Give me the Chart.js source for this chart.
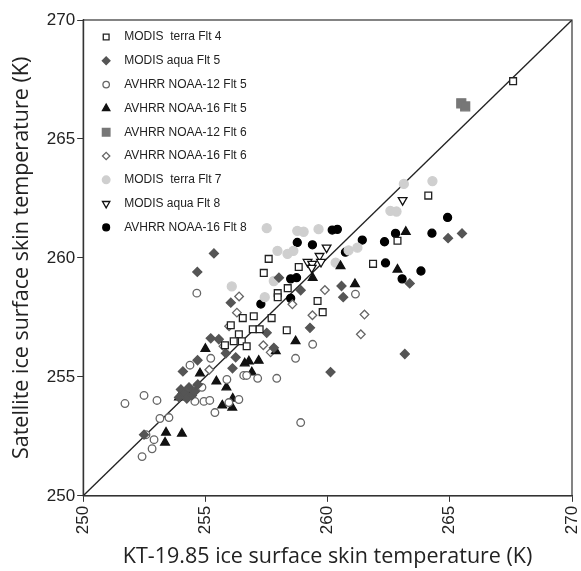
<!DOCTYPE html>
<html>
<head>
<meta charset="utf-8">
<script src="https://cdn.jsdelivr.net/npm/chart.js@4.4.1/dist/chart.umd.min.js"></script>
<style>
  html, body { margin: 0; padding: 0; background: #fff; }
  #wrap { width: 581px; height: 571px; position: relative; }
</style>
</head>
<body>
<div id="wrap"><canvas id="skinChart"></canvas></div>
<script>
// series values, [KT-19.85, satellite] in K
const terraFlt4 = [
  [267.59, 267.43], [264.12, 262.62], [262.86, 260.72], [261.86, 259.75],
  [259.59, 258.19], [259.80, 257.72], [258.33, 256.96], [258.82, 259.62],
  [258.37, 258.73], [257.59, 259.96], [257.39, 259.37], [257.96, 258.52],
  [257.96, 258.35], [257.71, 257.47], [256.53, 257.47], [256.98, 257.55],
  [256.04, 257.17], [256.94, 257.00], [257.22, 257.00], [256.37, 256.79],
  [256.16, 256.50], [256.49, 256.50], [255.80, 256.33], [256.69, 256.29]
];
const aquaFlt5 = [
  [255.35, 260.19], [254.67, 259.41], [256.04, 258.12], [255.22, 256.62],
  [255.55, 256.58], [255.84, 255.99], [254.68, 255.70], [254.08, 255.23],
  [256.11, 255.36], [256.24, 255.82], [257.51, 256.85], [257.80, 256.22],
  [259.28, 257.06], [258.90, 258.64], [260.57, 258.82], [260.64, 258.35],
  [263.16, 255.96], [260.12, 255.20], [263.36, 258.93], [264.93, 260.83],
  [265.50, 261.03], [258.01, 259.17], [254.00, 254.47], [254.16, 254.30],
  [254.33, 254.56], [254.45, 254.22], [254.24, 254.09], [254.57, 254.39],
  [253.92, 254.14], [254.69, 254.68], [252.49, 252.57]
];
const noaa12Flt5 = [
  [251.71, 253.88], [252.49, 254.22], [253.02, 254.01], [253.14, 253.25],
  [253.51, 253.29], [252.57, 252.57], [252.90, 252.36], [252.82, 251.98],
  [252.41, 251.65], [254.61, 254.51], [254.86, 254.56], [254.57, 253.97],
  [254.94, 253.97], [255.18, 254.01], [255.39, 253.50], [255.88, 254.89],
  [255.96, 253.92], [256.37, 254.05], [256.57, 255.06], [254.65, 258.52],
  [258.69, 255.78], [257.92, 254.94], [256.69, 255.06], [257.14, 254.94],
  [259.39, 256.37], [261.14, 258.48], [255.22, 255.78], [254.37, 255.49],
  [258.90, 253.08]
];
const noaa16Flt5 = [
  [253.39, 252.66], [254.04, 252.62], [253.35, 252.24], [255.45, 254.81],
  [255.86, 254.56], [253.92, 254.14], [256.12, 254.09], [255.69, 253.80],
  [256.10, 253.71], [254.78, 255.15], [255.00, 256.18], [258.69, 256.50],
  [257.18, 255.68], [256.61, 255.57], [256.78, 255.65], [256.90, 255.19],
  [257.88, 256.08], [260.53, 259.66], [261.12, 258.90], [259.39, 259.16],
  [263.20, 261.10], [262.86, 259.51]
];
const noaa12Flt6 = [[265.47, 266.50], [265.63, 266.37]];
const noaa16Flt6 = [
  [256.38, 258.38], [256.29, 257.70], [255.97, 257.13], [257.37, 256.33],
  [257.67, 256.03], [258.56, 258.05], [259.38, 257.59], [259.89, 258.65],
  [261.51, 257.62], [261.36, 256.79], [255.74, 256.29], [255.16, 255.30]
];
const terraFlt7 = [
  [257.51, 261.25], [258.76, 261.14], [259.02, 261.10], [259.63, 261.21],
  [262.57, 261.98], [262.82, 261.95], [263.12, 263.11], [264.29, 263.23],
  [261.22, 260.43], [260.86, 260.32], [258.36, 260.17], [258.60, 260.30],
  [260.33, 259.80], [257.95, 260.30], [256.08, 258.80], [257.43, 258.35],
  [257.80, 259.03]
];
const aquaFlt8 = [
  [263.07, 262.43], [259.96, 260.43], [259.67, 260.08], [259.18, 259.83],
  [259.37, 259.75], [259.73, 259.83], [259.35, 259.58]
];
const noaa16Flt8 = [
  [260.19, 261.17], [260.40, 261.20], [258.76, 260.65], [259.38, 260.55],
  [261.42, 260.75], [260.73, 260.24], [258.49, 259.12], [258.73, 259.17],
  [262.33, 260.68], [262.37, 259.79], [262.78, 261.03], [264.91, 261.70],
  [264.27, 261.04], [263.82, 259.45], [263.05, 259.12], [257.27, 258.06],
  [258.49, 258.30]
];
const oneToOne = [[250, 250], [270, 270]];

const seriesNames = [
  'MODIS  terra Flt 4', 'MODIS aqua Flt 5', 'AVHRR NOAA-12 Flt 5',
  'AVHRR NOAA-16 Flt 5', 'AVHRR NOAA-12 Flt 6', 'AVHRR NOAA-16 Flt 6',
  'MODIS  terra Flt 7', 'MODIS aqua Flt 8', 'AVHRR NOAA-16 Flt 8'
];
const axisTicks = [250, 255, 260, 265, 270];

const toXY = arr => arr.map(p => ({ x: p[0], y: p[1] }));

function pts(idx, data, style, bg, border, radius, extra) {
  return Object.assign({
    label: seriesNames[idx],
    data: toXY(data),
    pointStyle: style,
    backgroundColor: bg,
    borderColor: border,
    pointRadius: radius,
    borderWidth: 1.3
  }, extra || {});
}

// legend drawn inside the plot, top-left
const insideLegend = {
  id: 'insideLegend',
  afterDatasetsDraw(chart) {
    const { ctx, chartArea } = chart;
    ctx.save();
    ctx.font = '12px "Liberation Sans", Arial, sans-serif';
    ctx.textBaseline = 'middle';
    ctx.textAlign = 'left';
    chart.data.datasets.forEach((ds, i) => {
      if (ds.type === 'line') return;
      const y = chartArea.top + 17 + i * 23.8;
      const x = chartArea.left + 23;
      ctx.fillStyle = ds.backgroundColor;
      ctx.strokeStyle = ds.borderColor;
      ctx.lineWidth = ds.borderWidth;
      Chart.helpers.drawPoint(ctx, {
        pointStyle: ds.pointStyle,
        radius: ds.pointRadius * 0.85,
        rotation: ds.rotation || 0,
        borderWidth: ds.borderWidth
      }, x, y);
      ctx.fillStyle = '#222';
      ctx.fillText(ds.label, chartArea.left + 41, y);
    });
    ctx.restore();
  }
};

// frame round the plot area
const frameBox = {
  id: 'frameBox',
  afterDraw(chart) {
    const { ctx, chartArea: a } = chart;
    ctx.save();
    ctx.strokeStyle = '#333';
    ctx.lineWidth = 1.2;
    ctx.strokeRect(a.left, a.top, a.right - a.left, a.bottom - a.top);
    ctx.restore();
  }
};

const axisFont = { family: '"Liberation Sans", Arial, sans-serif', size: 17 };
const titleFont = { family: '"Open Sans", sans-serif', size: 21.5 };

new Chart(document.getElementById('skinChart'), {
  type: 'scatter',
  data: {
    datasets: [
      pts(0, terraFlt4, 'rect', '#fff', '#222', 4.8),
      pts(1, aquaFlt5, 'rectRot', '#555', '#555', 4.5),
      pts(2, noaa12Flt5, 'circle', '#fff', '#666', 3.8),
      pts(3, noaa16Flt5, 'triangle', '#111', '#111', 5),
      pts(4, noaa12Flt6, 'rect', '#777', '#777', 6.3),
      pts(5, noaa16Flt6, 'rectRot', '#fff', '#666', 4.3),
      pts(6, terraFlt7, 'circle', '#cfcfcf', '#cfcfcf', 4.5),
      pts(7, aquaFlt8, 'triangle', '#fff', '#111', 5, { rotation: 180 }),
      pts(8, noaa16Flt8, 'circle', '#000', '#000', 4),
      {
        type: 'line',
        label: '1:1',
        data: toXY(oneToOne),
        borderColor: '#222',
        borderWidth: 1.3,
        pointRadius: 0,
        fill: false
      }
    ]
  },
  options: {
    responsive: true,
    maintainAspectRatio: false,
    animation: false,
    layout: { padding: { top: 20, right: 9, bottom: 1, left: 9 } },
    plugins: {
      legend: { display: false },
      tooltip: { enabled: false }
    },
    scales: {
      x: {
        type: 'linear',
        min: 250,
        max: 270,
        afterBuildTicks: axis => { axis.ticks = axisTicks.map(v => ({ value: v })); },
        afterFit: axis => { axis.paddingRight = 0; },
        ticks: { color: '#222', font: axisFont, minRotation: 90, maxRotation: 90, padding: 4 },
        grid: { drawOnChartArea: false, tickLength: 6, tickColor: '#333' },
        border: { color: '#333', width: 1.2 },
        title: { display: true, text: 'KT-19.85 ice surface skin temperature (K)', color: '#222', font: titleFont, padding: { top: 6, bottom: 0 } }
      },
      y: {
        type: 'linear',
        min: 250,
        max: 270,
        afterBuildTicks: axis => { axis.ticks = axisTicks.map(v => ({ value: v })); },
        ticks: { color: '#222', font: axisFont, padding: 2 },
        grid: { drawOnChartArea: false, tickLength: 6, tickColor: '#333' },
        border: { color: '#333', width: 1.2 },
        title: { display: true, text: 'Satellite ice surface skin temperature (K)', color: '#222', font: titleFont, padding: { top: 0, bottom: 10 } }
      }
    }
  },
  plugins: [insideLegend, frameBox]
});
</script>
</body>
</html>
